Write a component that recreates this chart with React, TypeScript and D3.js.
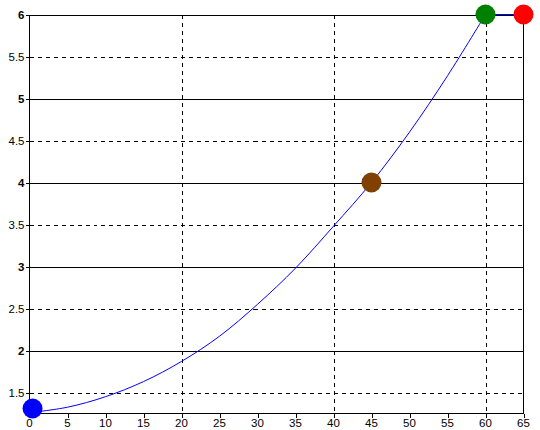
import React from "react";
import * as d3 from "d3";

const curveX = [0, 5, 10, 15, 20, 25, 30, 35, 40, 45, 50, 55, 60];
const curveY = [1.26, 1.325, 1.45, 1.63, 1.87, 2.17, 2.55, 2.98, 3.48, 4.0, 4.6, 5.27, 6.0];
const tailX = [60, 65];
const tailY = [6, 6];
const pointX = [0.4, 45, 60, 65];
const pointY = [1.31, 4, 6, 6];
const pointColors = ["#0000ff", "#804000", "#008000", "#ff0000"];
const xTicks = [0, 5, 10, 15, 20, 25, 30, 35, 40, 45, 50, 55, 60, 65];
const xGridDashed = [20, 40, 60];
const yTicks = [1.5, 2, 2.5, 3, 3.5, 4, 4.5, 5, 5.5, 6];

const W = 540;
const H = 430;

export default function App() {
  const x = d3.scaleLinear().domain([0, 65]).range([29.5, 523.5]);
  const y = d3.scaleLinear().domain([1.25, 6]).range([413.5, 14.5]);

  const curve = d3
    .line<number>()
    .x((_, i) => x(curveX[i]))
    .y((d) => y(d))
    .curve(d3.curveCatmullRom)(curveY) as string;
  const tail = d3
    .line<number>()
    .x((_, i) => x(tailX[i]))
    .y((d) => y(d))(tailY) as string;

  const font = "'Liberation Sans', Arial, sans-serif";
  const isInt = (v: number) => Math.abs(v - Math.round(v)) < 1e-9;

  return (
    <svg
      width={W}
      height={H}
      style={{ position: "fixed", left: 0, top: 0, background: "#fff" }}
    >
      <rect x={0} y={0} width={W} height={H} fill="#fff" />
      {yTicks.map((v) => (
        <line
          key={"hy" + v}
          x1={x(0)}
          x2={x(65)}
          y1={Math.round(y(v)) + 0.5}
          y2={Math.round(y(v)) + 0.5}
          stroke="#000"
          strokeWidth={1}
          strokeDasharray={isInt(v) ? undefined : "4,4"}
          shapeRendering="crispEdges"
        />
      ))}
      {xGridDashed.map((v) => (
        <line
          key={"vx" + v}
          x1={Math.round(x(v)) + 0.5}
          x2={Math.round(x(v)) + 0.5}
          y1={y(6)}
          y2={y(1.25)}
          stroke="#000"
          strokeDasharray="4,4"
          shapeRendering="crispEdges"
        />
      ))}
      <line x1={x(0)} x2={x(0)} y1={y(6)} y2={y(1.25)} stroke="#000" shapeRendering="crispEdges" />
      <line x1={x(65)} x2={x(65)} y1={y(6)} y2={y(1.25)} stroke="#000" shapeRendering="crispEdges" />
      <line x1={x(0) - 4} x2={x(65)} y1={y(1.25)} y2={y(1.25)} stroke="#000" shapeRendering="crispEdges" />
      {yTicks.map((v) => (
        <g key={"ty" + v}>
          <line
            x1={x(0) - 4}
            x2={x(0)}
            y1={Math.round(y(v)) + 0.5}
            y2={Math.round(y(v)) + 0.5}
            stroke="#000"
            shapeRendering="crispEdges"
          />
          <text
            x={x(0) - 5}
            y={y(v)}
            dy="0.36em"
            textAnchor="end"
            fontFamily={font}
            fontSize={11.5}
            fontWeight={isInt(v) ? "bold" : "normal"}
            fill="#000"
          >
            {String(v)}
          </text>
        </g>
      ))}
      {xTicks.map((v) => (
        <g key={"tx" + v}>
          <line
            x1={Math.round(x(v)) + 0.5}
            x2={Math.round(x(v)) + 0.5}
            y1={y(1.25)}
            y2={y(1.25) + 4}
            stroke="#000"
            shapeRendering="crispEdges"
          />
          <text
            x={x(v)}
            y={427}
            textAnchor="middle"
            fontFamily={font}
            fontSize={11.5}
            fill="#000"
          >
            {String(v)}
          </text>
        </g>
      ))}
      <path d={curve} fill="none" stroke="#0000ff" strokeWidth={1} />
      <path d={tail} fill="none" stroke="#0000ff" strokeWidth={1} />
      {pointX.map((px, i) => (
        <circle key={"p" + i} cx={x(px)} cy={y(pointY[i])} r={10} fill={pointColors[i]} />
      ))}
    </svg>
  );
}
